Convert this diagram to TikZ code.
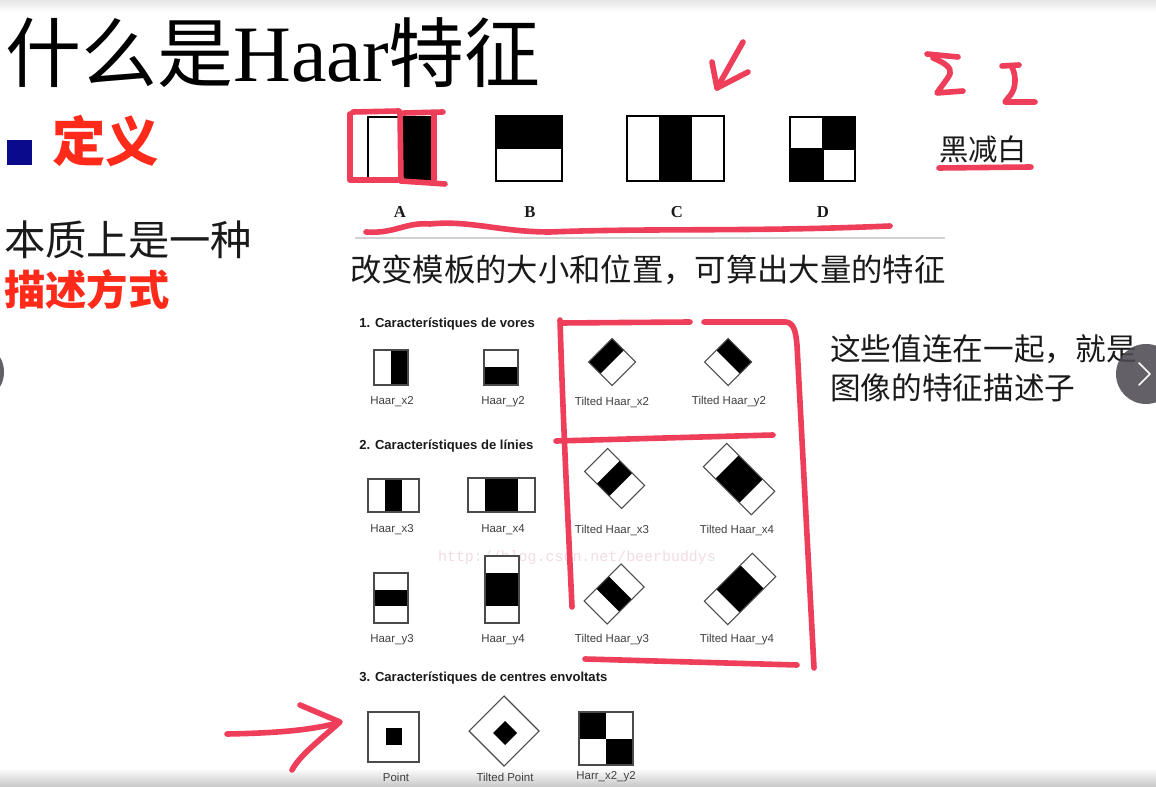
\documentclass[tikz,border=0pt]{standalone}
\usepackage{fontspec}
\setmainfont{Liberation Serif}
\setsansfont{Liberation Sans}
\setmonofont{Liberation Mono}
\newfontfamily\cjk{Noto Sans CJK SC}
\usetikzlibrary{calc}

\definecolor{mark}{HTML}{EE3E5A}
\definecolor{defred}{HTML}{FF2A1A}
\definecolor{navy}{HTML}{0A0A8C}
\definecolor{featline}{HTML}{4A4A4A}
\definecolor{wmark}{HTML}{F2DCE3}
\definecolor{navgray}{HTML}{4E4A52}
\definecolor{txt}{HTML}{1A1A1A}

% tilted (45 degree) feature: name, centre x, y, long half-vector, short half-vector, black stripe from a to b along the long axis
\newcommand\tiltfeat[9]{%
  \coordinate (#1) at (#2,#3);
  \fill[white] ({#2-(#4)-(#6)},{#3-(#5)-(#7)}) -- ({#2-(#4)+(#6)},{#3-(#5)+(#7)})
     -- ({#2+(#4)+(#6)},{#3+(#5)+(#7)}) -- ({#2+(#4)-(#6)},{#3+(#5)-(#7)}) -- cycle;
  \fill[black] ({#2+(#8)*(#4)-(#6)},{#3+(#8)*(#5)-(#7)}) -- ({#2+(#8)*(#4)+(#6)},{#3+(#8)*(#5)+(#7)})
     -- ({#2+(#9)*(#4)+(#6)},{#3+(#9)*(#5)+(#7)}) -- ({#2+(#9)*(#4)-(#6)},{#3+(#9)*(#5)-(#7)}) -- cycle;
  \draw[featbox] ({#2-(#4)-(#6)},{#3-(#5)-(#7)}) -- ({#2-(#4)+(#6)},{#3-(#5)+(#7)})
     -- ({#2+(#4)+(#6)},{#3+(#5)+(#7)}) -- ({#2+(#4)-(#6)},{#3+(#5)-(#7)}) -- cycle;
}

\tikzset{
  marker/.style={draw=mark, line width=4.2pt, line cap=round, line join=round},
  featbox/.style={draw=featline, line width=0.8pt},
  bigbox/.style={draw=black, line width=1.5pt},
  lbl/.style={inner sep=0pt, text=black!75, font=\sffamily\fontsize{8.6}{10}\selectfont},
  hdr/.style={inner sep=0pt, anchor=west, text=txt, font=\sffamily\bfseries\fontsize{9.8}{11}\selectfont},
  letter/.style={inner sep=0pt, text=txt, font=\bfseries\fontsize{12.5}{14}\selectfont},
  cjktext/.style={inner sep=0pt, anchor=west, text=txt},
}

\begin{document}
\begin{tikzpicture}[x=0.75pt, y=-0.75pt]
\useasboundingbox (0,0) rectangle (1156,787);
\clip (0,0) rectangle (1156,787);

% slide background
\fill[white] (0,0) rectangle (1156,787);
\shade[top color=black!10, bottom color=white] (0,0) rectangle (1156,12);
\shade[top color=white, bottom color=black!22] (0,768) rectangle (1156,787);

% title and left column
\node[cjktext, text=black] (title) at (5,53)
  {\fontsize{57}{62}\selectfont\cjk 什么是\rmfamily\fontsize{60}{62}\selectfont Haar\cjk\fontsize{57}{62}\selectfont 特征};
\fill[navy] (7,140) rectangle (32,165);
\node[cjktext, text=defred] (defn) at (52,141) {\fontsize{40}{44}\selectfont\cjk\bfseries 定义};
\node[cjktext] (essence) at (4,240) {\fontsize{31}{34}\selectfont\cjk 本质上是一种};
\node[cjktext, text=defred] (descr) at (4,290) {\fontsize{31}{34}\selectfont\cjk\bfseries 描述方式};

% basic Haar features A-D
\fill[white] (368,117) rectangle (430,180);
\fill[black] (399,117) rectangle (430,180);
\draw[bigbox] (368,117) rectangle (430,180);
\fill[black] (496,116) rectangle (562,148);
\draw[bigbox] (496,116) rectangle (562,181);
\draw[bigbox] (496,148) -- (562,148);
\fill[black] (659,116) rectangle (692,181);
\draw[bigbox] (627,116) rectangle (724,181);
\fill[black] (822.5,117) rectangle (855,149);
\fill[black] (790,149) rectangle (822.5,181);
\draw[bigbox] (790,117) rectangle (855,181);
\draw[bigbox] (790,149) -- (855,149);
\draw[bigbox] (822.5,117) -- (822.5,181);

\node[letter] (la) at (400,212) {A};
\node[letter] (lb) at (530,212) {B};
\node[letter] (lc) at (677,212) {C};
\node[letter] (ld) at (823,212) {D};
\draw[black!18, line width=1pt] (355,238) -- (945,238);

\node[cjktext] (resize) at (350,270) {\fontsize{23.5}{26}\selectfont\cjk 改变模板的大小和位置，可算出大量的特征};
\node[cjktext] (bw) at (939,149) {\fontsize{22}{24}\selectfont\cjk 黑减白};

% extended feature set
\node[inner sep=0pt, text=wmark, font=\ttfamily\fontsize{11.2}{13}\selectfont] (wm) at (577,558) {http://blog.csdn.net/beerbuddys};

\node[hdr] (h1) at (359,324) {1. Característiques de vores};
\node[hdr] (h2) at (359,446) {2. Característiques de línies};
\node[hdr] (h3) at (359,678) {3. Característiques de centres envoltats};

% row 1
\fill[white] (374,350) rectangle (408,385);
\fill[black] (391,350) rectangle (408,385);
\draw[featbox] (374,350) rectangle (408,385);
\fill[white] (484,350) rectangle (518,385);
\fill[black] (484,367.5) rectangle (518,385);
\draw[featbox] (484,350) rectangle (518,385);
\tiltfeat{tx2}{612}{362}{11.75}{11.75}{11.75}{-11.75}{-1}{0}
\tiltfeat{ty2}{728}{362}{-11.75}{11.75}{11.75}{11.75}{-1}{0}
\node[lbl] (nx2) at (392,402) {Haar\_x2};
\node[lbl] (ny2) at (503,402) {Haar\_y2};
\node[lbl] (ntx2) at (612,402) {Tilted Haar\_x2};
\node[lbl] (nty2) at (729,402) {Tilted Haar\_y2};

% row 2
\fill[white] (368,479) rectangle (419,512);
\fill[black] (385,479) rectangle (402,512);
\draw[featbox] (368,479) rectangle (419,512);
\fill[white] (468,478) rectangle (535,512);
\fill[black] (485,478) rectangle (518,512);
\draw[featbox] (468,478) rectangle (535,512);
\tiltfeat{tx3}{614.5}{478.5}{18.5}{18.5}{11.5}{-11.5}{-1/3}{1/3}
\tiltfeat{tx4}{739}{479}{24}{24}{11.7}{-11.7}{-0.5}{0.5}
\node[lbl] (nx3) at (392,530) {Haar\_x3};
\node[lbl] (nx4) at (503,530) {Haar\_x4};
\node[lbl] (ntx3) at (612,530) {Tilted Haar\_x3};
\node[lbl] (ntx4) at (737,530) {Tilted Haar\_x4};

% row 3
\fill[white] (374,573) rectangle (408,623);
\fill[black] (374,590) rectangle (408,606);
\draw[featbox] (374,573) rectangle (408,623);
\fill[white] (485,556) rectangle (519,623);
\fill[black] (485,573) rectangle (519,606);
\draw[featbox] (485,556) rectangle (519,623);
\tiltfeat{ty3}{614}{594}{-18.5}{18.5}{11.5}{11.5}{-1/3}{1/3}
\tiltfeat{ty4}{740}{589}{-24}{24}{11.7}{11.7}{-0.5}{0.5}
\node[lbl] (ny3) at (392,640) {Haar\_y3};
\node[lbl] (ny4) at (503,640) {Haar\_y4};
\node[lbl] (nty3) at (612,640) {Tilted Haar\_y3};
\node[lbl] (nty4) at (737,640) {Tilted Haar\_y4};

% row 4: centre-surround features
\fill[white] (368,712) rectangle (419,762);
\fill[black] (386,728) rectangle (402,745);
\draw[featbox] (368,712) rectangle (419,762);
\coordinate (tpt) at (504,731);
\filldraw[featbox, fill=white] (504,696) -- (539,731) -- (504,766) -- (469,731) -- cycle;
\fill[black] (505,721) -- (517,733) -- (505,745) -- (493,733) -- cycle;
\fill[white] (579,712) rectangle (633,765);
\fill[black] (579,712) rectangle (606,738.5);
\fill[black] (606,738.5) rectangle (633,765);
\draw[featbox] (579,712) rectangle (633,765);
\node[lbl] (npt) at (396,777) {Point};
\node[lbl] (ntpt) at (505,777) {Tilted Point};
\node[lbl] (nxy) at (606,777) {Harr\_x2\_y2};

% right-hand note
\node[cjktext] (note1) at (830,349) {\fontsize{23}{26}\selectfont\cjk 这些值连在一起，就是};
\node[cjktext] (note2) at (830,388) {\fontsize{23}{26}\selectfont\cjk 图像的特征描述子};

% hand-drawn annotations
\draw[marker] (353,112) -- (399,111);
\draw[marker] (350,114) -- (350,180) -- (398,180);
\draw[marker] (400,112) -- (401,181);
\draw[marker] (404,113) -- (443,112);
\draw[marker] (434,114) -- (434,180);
\draw[marker] (401,181) -- (445,184);
\draw[marker] (366,232) .. controls (395,234) and (405,222) .. (430,224)
  .. controls (470,220) and (500,232) .. (550,232)
  .. controls (650,228) and (750,232) .. (890,226);
\draw[marker] (743,42) -- (717,88);
\draw[marker] (712,62) -- (717,88) -- (748,72);
\draw[marker] (927,54) -- (958,57);
\draw[marker] (933,58) .. controls (945,63) and (952,68) .. (950,74)
  .. controls (947,80) and (940,88) .. (937,93) -- (963,91);
\draw[marker] (1002,66) -- (1019,65);
\draw[marker] (1012,67) .. controls (1017,78) and (1016,90) .. (1008,98) -- (1005,102) -- (1035,102);
\draw[marker] (939,168) -- (1031,167);
\draw[marker] (560,320) .. controls (563,420) and (568,520) .. (572,607);
\draw[marker] (561,323) -- (690,322);
\draw[marker] (704,322) -- (786,322) .. controls (795,323) and (796,335) .. (797,345) -- (814,668);
\draw[marker] (556,441) -- (773,435);
\draw[marker] (585,659) -- (797,665);
\draw[marker] (227,734) .. controls (280,733) and (310,730) .. (338,723);
\draw[marker] (300,705) -- (340,722) .. controls (320,740) and (300,755) .. (292,770);

% slide navigation buttons
\fill[navgray, opacity=0.88] (1146,374) circle (30);
\draw[white, line width=1.3pt, line cap=round, line join=round] (1139,363) -- (1150,374) -- (1139,385);
\fill[navgray, opacity=0.88] (-26,372) circle (30);
\end{tikzpicture}
\end{document}
